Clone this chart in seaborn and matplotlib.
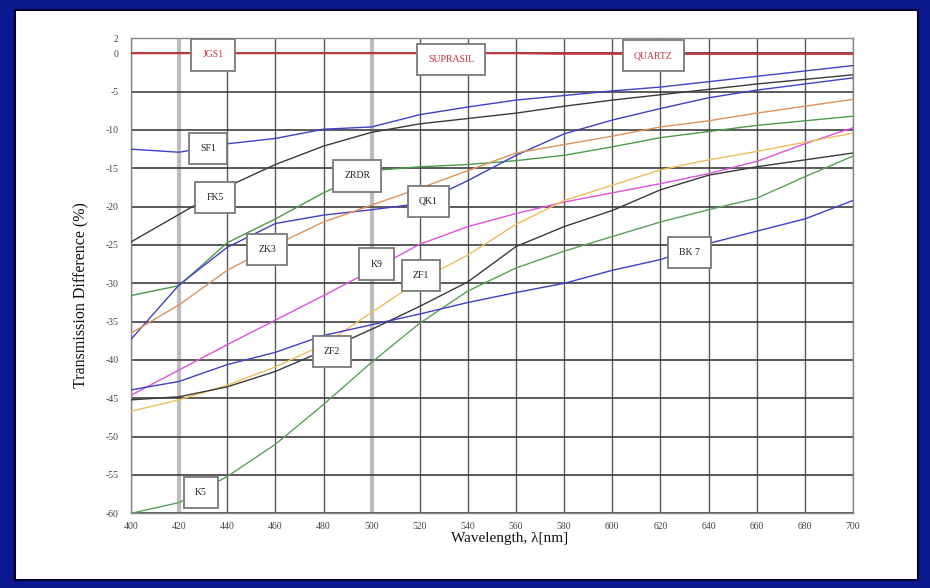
import numpy as np
import pandas as pd
import matplotlib
matplotlib.use("Agg")
import matplotlib.pyplot as plt
from matplotlib.patches import Rectangle
import seaborn as sns

# ---------------- data ----------------
wavelength = [400, 420, 440, 460, 480, 500, 520, 540, 560, 580, 600, 620, 640, 660, 680, 700]

jgs1     = [0, 0, 0, 0, 0, 0, 0, 0, 0, 0, 0, 0, 0, 0, 0, 0]
suprasil = [0, 0, 0, 0, 0, 0, 0, 0, 0, -0.1, -0.1, -0.1, -0.1, -0.1, -0.1, -0.1]
quartz   = [0, 0, 0, 0, 0, 0, 0, 0, 0, 0, 0, -0.05, -0.05, -0.05, -0.05, -0.05]
sf1  = [-12.5, -12.9, -11.8, -11.1, -9.9, -9.6, -8.0, -7.0, -6.1, -5.5, -4.9, -4.4, -3.7, -3.0, -2.3, -1.6]
fk5  = [-24.6, -21.0, -17.4, -14.5, -12.1, -10.3, -9.2, -8.5, -7.8, -6.9, -6.1, -5.4, -4.7, -4.0, -3.4, -2.8]
zrdr = [-31.6, -30.3, -24.7, -21.6, -18.2, -15.3, -14.8, -14.5, -14.0, -13.3, -12.2, -11.0, -10.2, -9.4, -8.8, -8.2]
qk1  = [-37.3, -30.2, -25.3, -22.2, -21.1, -20.4, -19.6, -16.6, -13.3, -10.5, -8.7, -7.2, -5.8, -4.8, -4.0, -3.2]
zk3  = [-36.5, -32.8, -28.3, -25.0, -22.0, -19.8, -17.6, -15.3, -13.0, -11.9, -10.8, -9.6, -8.8, -7.8, -6.9, -6.0]
k9   = [-44.6, -41.3, -38.0, -34.8, -31.6, -28.3, -24.9, -22.6, -20.9, -19.4, -18.2, -17.0, -15.7, -14.1, -11.8, -9.7]
zf1  = [-46.7, -45.2, -43.3, -40.9, -38.0, -33.8, -29.6, -26.3, -22.3, -19.2, -17.2, -15.2, -13.9, -12.8, -11.6, -10.4]
zf2  = [-45.2, -44.8, -43.5, -41.5, -38.8, -36.0, -33.0, -29.8, -25.2, -22.6, -20.5, -17.8, -15.9, -14.8, -13.9, -13.0]
k5   = [-60.0, -58.6, -55.2, -51.0, -45.8, -40.3, -35.2, -31.0, -28.0, -25.8, -23.9, -22.0, -20.4, -18.9, -16.1, -13.4]
bk7  = [-43.9, -42.8, -40.6, -39.0, -36.8, -35.4, -34.0, -32.5, -31.2, -30.0, -28.3, -26.9, -24.8, -23.2, -21.6, -19.2]

series = {
    "JGS1": jgs1, "SUPRASIL": suprasil, "QUARTZ": quartz,
    "SF1": sf1, "FK5": fk5, "ZRDR": zrdr, "QK1": qk1, "ZK3": zk3,
    "K9": k9, "ZF1": zf1, "ZF2": zf2, "K5": k5, "BK 7": bk7,
}
colors = {
    "JGS1": "#c8323c", "SUPRASIL": "#c8323c", "QUARTZ": "#c8323c",
    "SF1": "#4040c8", "FK5": "#3a3a3a", "ZRDR": "#4a9a4a", "QK1": "#4040c8",
    "ZK3": "#e0925a", "K9": "#e050e0", "ZF1": "#f0be5a", "ZF2": "#3a3a3a",
    "K5": "#5aa05a", "BK 7": "#4040c8",
}
# label annotation positions (wavelength, %)
label_pos = {
    "JGS1": (434, -0.2), "SUPRASIL": (533, -0.8), "QUARTZ": (617, -0.3),
    "SF1": (432, -12.4), "FK5": (435, -18.8), "ZRDR": (494, -16.0),
    "QK1": (523.5, -19.3), "ZK3": (456.5, -25.6), "K9": (502, -27.5),
    "ZF1": (520.5, -29.0), "ZF2": (483.5, -38.9), "BK 7": (632, -26.0),
    "K5": (429, -57.3),
}
red_labels = ["JGS1", "SUPRASIL", "QUARTZ"]

xticks = list(range(400, 701, 20))
yticks = [2, 0, -5, -10, -15, -20, -25, -30, -35, -40, -45, -50, -55, -60]

df = pd.concat(
    [pd.DataFrame({"wavelength": wavelength, "diff": v, "glass": k}) for k, v in series.items()],
    ignore_index=True,
)

# ---------------- figure ----------------
sns.set_style("white")
plt.rcParams["font.family"] = ["Liberation Serif", "DejaVu Serif"]

W, H = 930, 588
fig = plt.figure(figsize=(W / 100, H / 100), dpi=100)
fig.patch.set_facecolor("#0a1a8e")
fig.patches.append(Rectangle((15 / W, 1 - 580 / H), (918 - 15) / W, (580 - 10) / H,
                             transform=fig.transFigure, facecolor="white",
                             edgecolor="#000030", linewidth=1.5, zorder=-5))

ax = fig.add_axes([131 / W, 1 - 513.3 / H, (853 - 131) / W, (513.3 - 38) / H])
ax.set_zorder(2)
ax.set_facecolor("white")

# grid
for x in xticks:
    ax.axvline(x, color="#5a5a5a", lw=1.0, zorder=1)
for x in (420, 500):
    ax.axvline(x, color="#bdbdbd", lw=3.0, zorder=1)
for y in yticks:
    ax.axhline(y, color="#3e3e3e", lw=1.2, zorder=1)

sns.lineplot(data=df, x="wavelength", y="diff", hue="glass", palette=colors,
             legend=False, linewidth=1.0, ax=ax, zorder=3, sort=False)

for name, (lx, ly) in label_pos.items():
    ax.text(lx, ly, name, fontsize=7, ha="center", va="center",
            color="#c8323c" if name in red_labels else "#222222", zorder=5,
            bbox=dict(boxstyle="square,pad=1.15", fc="white", ec="#7a7a7a", lw=1.3))

ax.set_xlim(400, 700)
ax.set_ylim(-60, 2)
ax.set_xticks(xticks)
ax.set_yticks(yticks)
ax.set_xticklabels([str(x) for x in xticks])
ax.set_yticklabels([str(y) for y in yticks])
ax.tick_params(axis="both", length=0, labelsize=7, labelcolor="#444444")
ax.tick_params(axis="x", pad=6)
ax.tick_params(axis="y", pad=9)
for s in ax.spines.values():
    s.set_color("#888888")
    s.set_linewidth(1.0)

ax.set_xlabel("Wavelength, λ[nm]", fontsize=11, color="#111111")
ax.set_ylabel("Transmission Difference (%)", fontsize=11.5, color="#111111")
ax.xaxis.set_label_coords(0.525, -0.040)
ax.yaxis.set_label_coords(-0.058, 0.46)

fig.savefig("out.png", dpi=100, facecolor=fig.get_facecolor())
